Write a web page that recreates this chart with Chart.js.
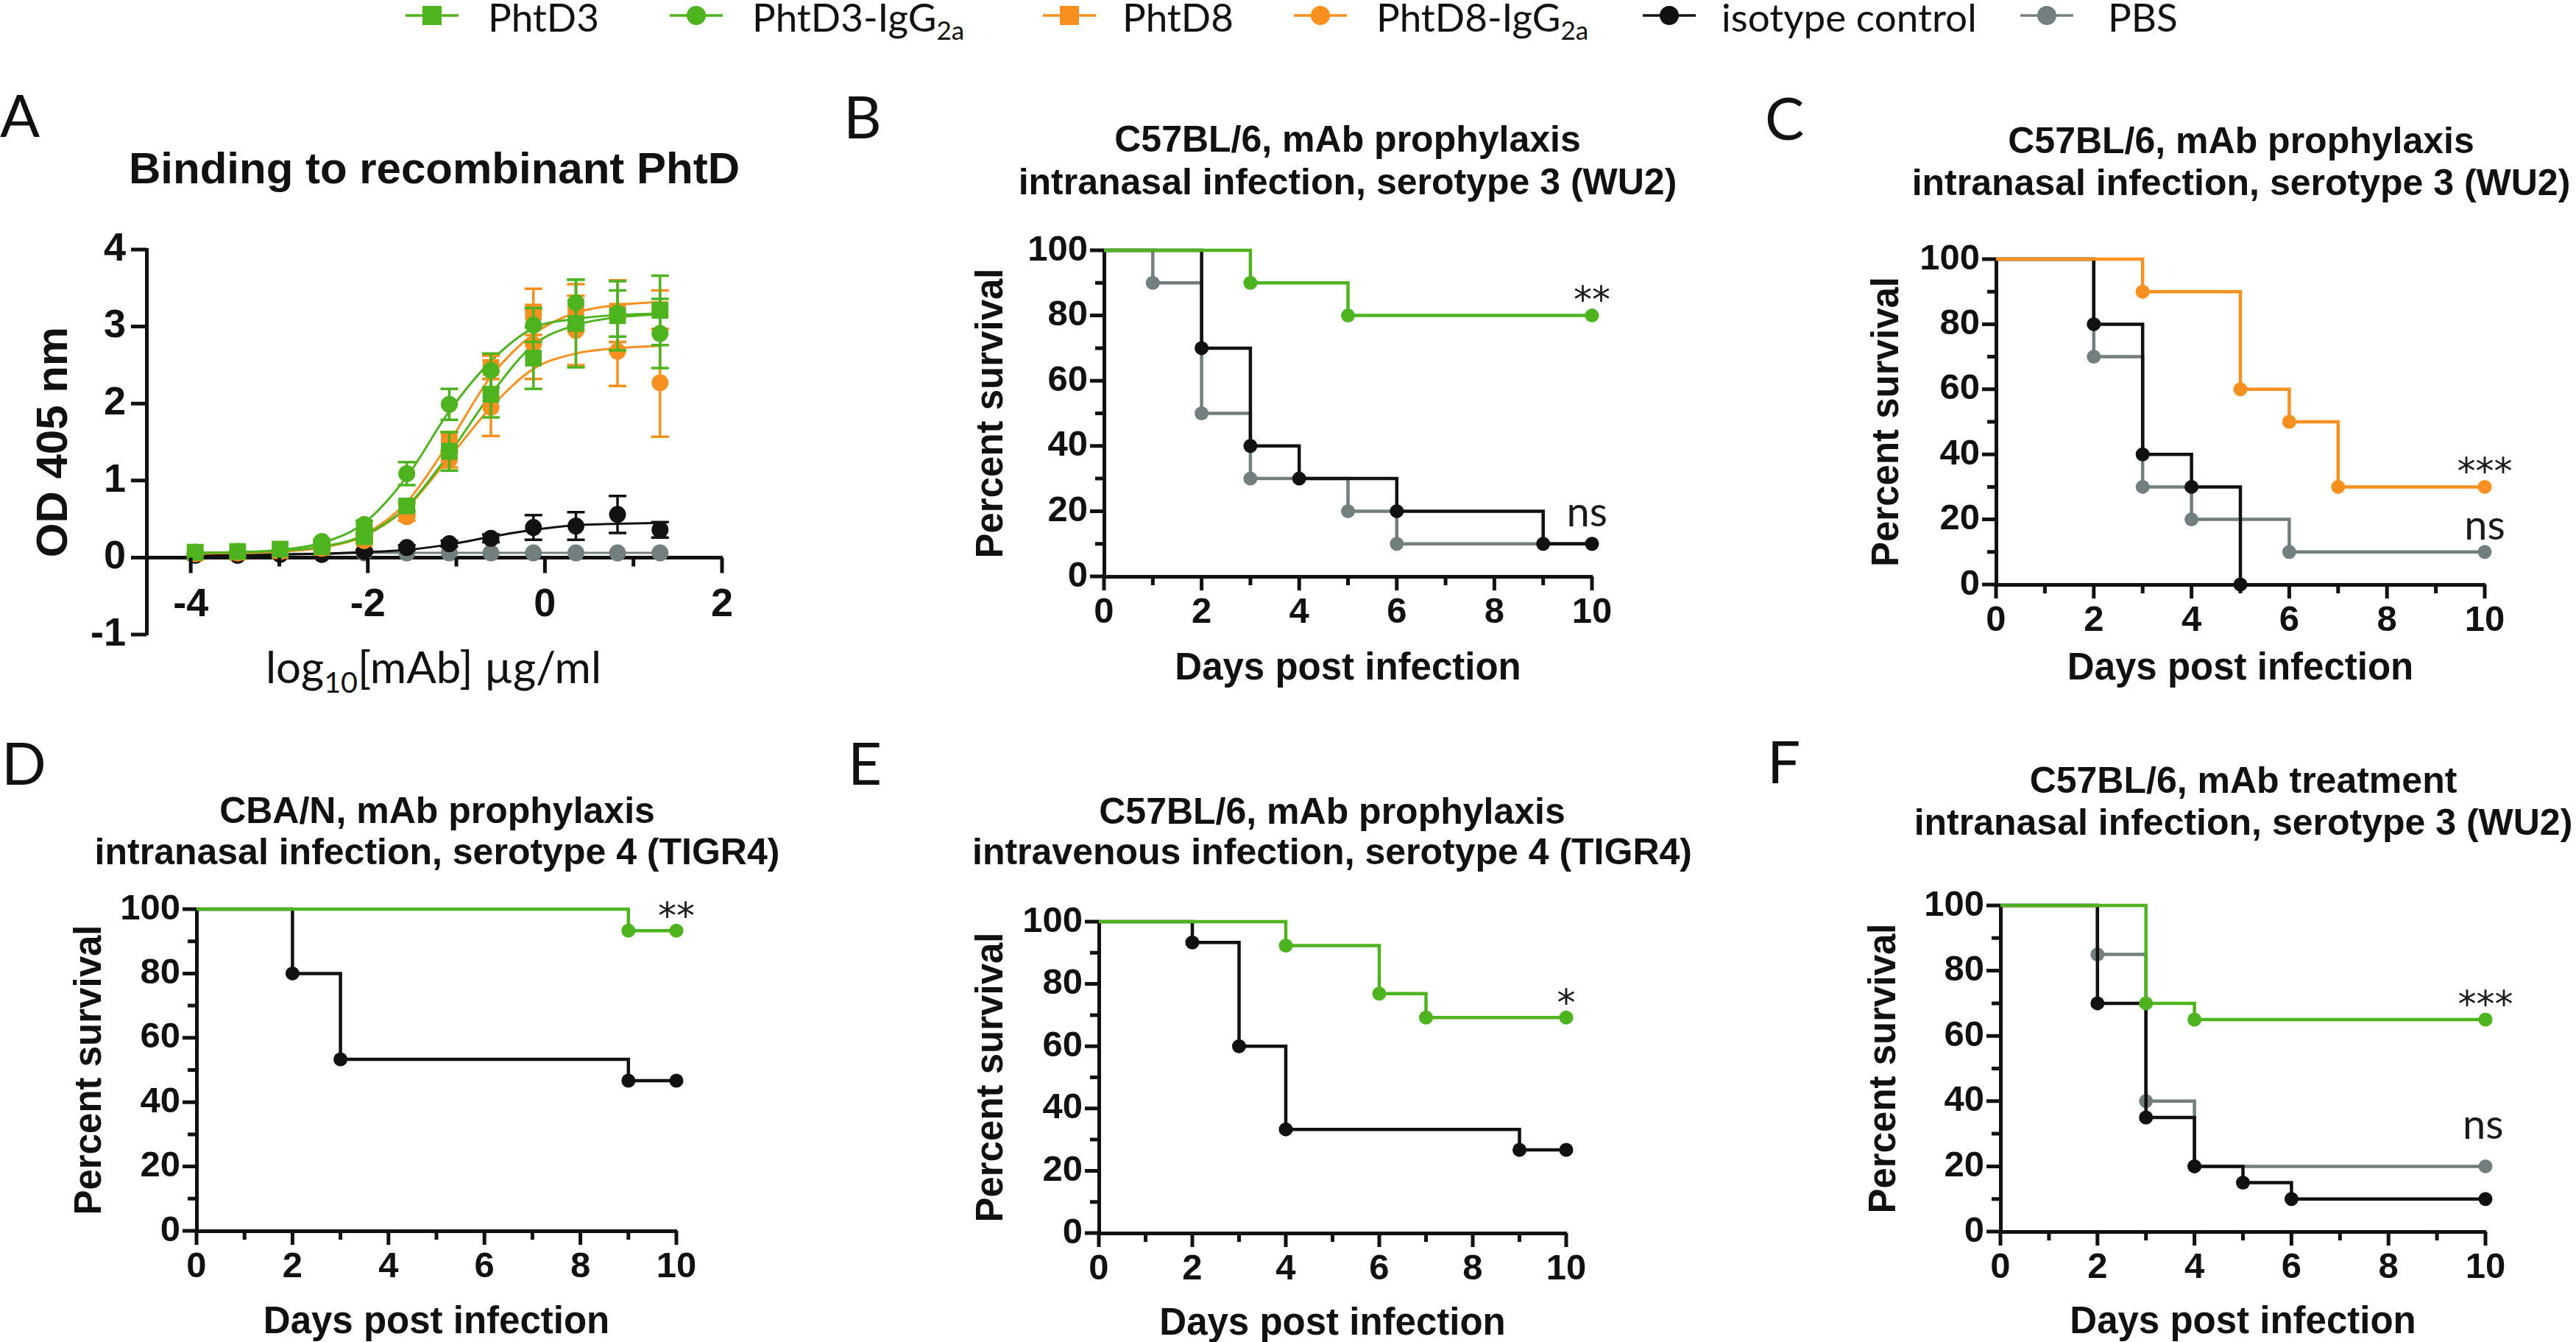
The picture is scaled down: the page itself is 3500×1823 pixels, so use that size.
<!DOCTYPE html>
<html>
<head>
<meta charset="utf-8">
<title>PhtD mAb binding and survival</title>
<script src="https://cdn.jsdelivr.net/npm/chart.js@4.4.1/dist/chart.umd.min.js"></script>
<style>
  html, body { margin: 0; padding: 0; background: #fff; }
  #fig { position: relative; width: 3500px; height: 1823px; overflow: hidden; background: #fff; color: #111; }
  #fig canvas { position: absolute; }
  .txt { position: absolute; white-space: nowrap; line-height: 1; }
  .ttl { font-family: "Liberation Sans", Arial, sans-serif; font-weight: bold; font-size: 50px; width: 1400px; text-align: center; }
  .big { font-size: 60px; }
  .lbl { font-family: Lato, "Open Sans", sans-serif; font-size: 80px; }
  .leg { font-family: Lato, "Open Sans", sans-serif; font-size: 53px; }
  .sub { font-size: 0.66em; position: relative; top: 0.32em; }
  svg.sym { position: absolute; }
</style>
</head>
<body>
<div id="fig">
  <!-- legend -->
  <svg class="sym" style="left:551px;top:2px" width="72" height="38"><line x1="0" y1="19" x2="72" y2="19" stroke="#4db31f" stroke-width="3.5"/><rect x="23" y="6" width="26" height="26" fill="#4db31f"/></svg>
  <div class="txt leg" style="left:663px;top:-4px">PhtD3</div>
  <svg class="sym" style="left:910px;top:2px" width="72" height="38"><line x1="0" y1="19" x2="72" y2="19" stroke="#4db31f" stroke-width="3.5"/><circle cx="36" cy="19" r="13" fill="#4db31f"/></svg>
  <div class="txt leg" style="left:1022px;top:-4px">PhtD3-IgG<span class="sub">2a</span></div>
  <svg class="sym" style="left:1417px;top:2px" width="72" height="38"><line x1="0" y1="19" x2="72" y2="19" stroke="#f7901e" stroke-width="3.5"/><rect x="23" y="6" width="26" height="26" fill="#f7901e"/></svg>
  <div class="txt leg" style="left:1525px;top:-4px">PhtD8</div>
  <svg class="sym" style="left:1758px;top:2px" width="72" height="38"><line x1="0" y1="19" x2="72" y2="19" stroke="#f7901e" stroke-width="3.5"/><circle cx="36" cy="19" r="13" fill="#f7901e"/></svg>
  <div class="txt leg" style="left:1870px;top:-4px">PhtD8-IgG<span class="sub">2a</span></div>
  <svg class="sym" style="left:2232px;top:2px" width="72" height="38"><line x1="0" y1="19" x2="72" y2="19" stroke="#111111" stroke-width="3.5"/><circle cx="36" cy="19" r="13" fill="#111111"/></svg>
  <div class="txt leg" style="left:2339px;top:-4px">isotype control</div>
  <svg class="sym" style="left:2745px;top:2px" width="72" height="38"><line x1="0" y1="19" x2="72" y2="19" stroke="#737f7f" stroke-width="3.5"/><circle cx="36" cy="19" r="13" fill="#737f7f"/></svg>
  <div class="txt leg" style="left:2864px;top:-4px">PBS</div>

  <!-- panel letters -->
  <div class="txt lbl" style="left:0px;top:115px">A</div>
  <div class="txt lbl" style="left:1146px;top:117px">B</div>
  <div class="txt lbl" style="left:2398px;top:119px">C</div>
  <div class="txt lbl" style="left:2px;top:995px">D</div>
  <div class="txt lbl" style="left:1152px;top:995px">E</div>
  <div class="txt lbl" style="left:2401px;top:993px">F</div>

  <!-- panel titles -->
  <div class="txt ttl big" style="left:-110px;top:199px">Binding to recombinant PhtD</div>
  <div class="txt ttl" style="left:1131px;top:164px">C57BL/6, mAb prophylaxis</div>
  <div class="txt ttl" style="left:1131px;top:222px">intranasal infection, serotype 3 (WU2)</div>
  <div class="txt ttl" style="left:2345px;top:166px">C57BL/6, mAb prophylaxis</div>
  <div class="txt ttl" style="left:2345px;top:223px">intranasal infection, serotype 3 (WU2)</div>
  <div class="txt ttl" style="left:-106px;top:1076px">CBA/N, mAb prophylaxis</div>
  <div class="txt ttl" style="left:-106px;top:1132px">intranasal infection, serotype 4 (TIGR4)</div>
  <div class="txt ttl" style="left:1110px;top:1077px">C57BL/6, mAb prophylaxis</div>
  <div class="txt ttl" style="left:1110px;top:1132px">intravenous infection, serotype 4 (TIGR4)</div>
  <div class="txt ttl" style="left:2348px;top:1035px">C57BL/6, mAb treatment</div>
  <div class="txt ttl" style="left:2348px;top:1092px">intranasal infection, serotype 3 (WU2)</div>

  <!-- x-axis title of panel A (needs a subscript) -->
  <div class="txt" style="font-family:Lato,'Open Sans',sans-serif;font-size:60px;left:189px;top:875px;width:800px;text-align:center">log<span class="sub">10</span>[mAb] µg/ml</div>
</div>

<script>
// ---------- panel A: binding to recombinant PhtD (OD 405 nm) ----------
const logConc = [-3.95, -3.47, -2.99, -2.52, -2.04, -1.56, -1.08, -0.61, -0.13, 0.35, 0.82, 1.30];

const odPhtD3   = [0.07, 0.08, 0.11, 0.14, 0.27, 0.67, 1.38, 2.12, 2.59, 3.04, 3.14, 3.21];
const sdPhtD3   = [0, 0, 0, 0.02, 0.04, 0.06, 0.25, 0.30, 0.40, 0.57, 0.45, 0.45];
const fitPhtD3  = [0.06, 0.07, 0.09, 0.14, 0.29, 0.66, 1.35, 2.12, 2.76, 3.02, 3.12, 3.16];

const odPhtD3G  = [0.07, 0.08, 0.10, 0.21, 0.43, 1.09, 1.99, 2.43, 3.02, 3.31, 3.17, 2.91];
const sdPhtD3G  = [0, 0, 0, 0.02, 0.05, 0.15, 0.20, 0.22, 0.22, 0.30, 0.30, 0.45];
const fitPhtD3G = [0.06, 0.07, 0.10, 0.19, 0.45, 1.05, 1.90, 2.55, 2.98, 3.10, 3.15, 3.17];

const odPhtD8   = [0.06, 0.07, 0.09, 0.13, 0.25, 0.62, 1.51, 2.47, 3.19, 3.25, 3.20, 3.22];
const sdPhtD8   = [0, 0, 0, 0.01, 0.03, 0.08, 0.12, 0.15, 0.30, 0.30, 0.40, 0.25];
const fitPhtD8  = [0.05, 0.06, 0.08, 0.13, 0.30, 0.72, 1.50, 2.35, 2.90, 3.18, 3.28, 3.32];

const odPhtD8G  = [0.05, 0.06, 0.08, 0.12, 0.22, 0.53, 1.27, 1.95, 2.77, 2.95, 2.68, 2.27];
const sdPhtD8G  = [0, 0, 0, 0.01, 0.03, 0.05, 0.10, 0.37, 0.45, 0.45, 0.45, 0.70];
const fitPhtD8G = [0.05, 0.06, 0.08, 0.13, 0.28, 0.65, 1.30, 1.95, 2.45, 2.65, 2.72, 2.75];

const odIso     = [0.03, 0.03, 0.04, 0.04, 0.08, 0.13, 0.18, 0.25, 0.39, 0.41, 0.56, 0.36];
const sdIso     = [0, 0, 0, 0.01, 0.02, 0.03, 0.04, 0.05, 0.16, 0.18, 0.24, 0.10];
const fitIso    = [0.03, 0.03, 0.04, 0.05, 0.07, 0.10, 0.17, 0.27, 0.36, 0.42, 0.44, 0.45];

const odPBS     = [0.05, 0.05, 0.05, 0.05, 0.06, 0.06, 0.06, 0.06, 0.06, 0.06, 0.06, 0.06];
const fitPBS    = [0.05, 0.05, 0.05, 0.05, 0.06, 0.06, 0.06, 0.06, 0.06, 0.06, 0.06, 0.06];

const odTicks = [-1, 0, 1, 2, 3, 4];
const logTicks = [-4, -2, 0, 2];
const logMinorTicks = [-3, -1, 1];

// ---------- panels B-F: Kaplan-Meier survival (%) ----------
const dayTicks = [0, 2, 4, 6, 8, 10];
const dayMinorTicks = [1, 3, 5, 7, 9];
const pctTicks = [0, 20, 40, 60, 80, 100];
const pctMinorTicks = [10, 30, 50, 70, 90];

const daysB_D3  = [0, 3, 5, 10];             const survB_D3  = [100, 90, 80, 80];
const daysB_iso = [0, 2, 3, 4, 6, 9, 10];    const survB_iso = [100, 70, 40, 30, 20, 10, 10];
const daysB_pbs = [0, 1, 2, 3, 5, 6, 10];    const survB_pbs = [100, 90, 50, 30, 20, 10, 10];

const daysC_D8  = [0, 3, 5, 6, 7, 10];       const survC_D8  = [100, 90, 60, 50, 30, 30];
const daysC_iso = [0, 2, 3, 4, 5];           const survC_iso = [100, 80, 40, 30, 0];
const daysC_pbs = [0, 2, 3, 4, 6, 10];       const survC_pbs = [100, 70, 30, 20, 10, 10];

const daysD_D3  = [0, 9, 10];                const survD_D3  = [100, 93.3, 93.3];
const daysD_iso = [0, 2, 3, 9, 10];          const survD_iso = [100, 80, 53.3, 46.7, 46.7];

const daysE_D3  = [0, 4, 6, 7, 10];          const survE_D3  = [100, 92.3, 76.9, 69.2, 69.2];
const daysE_iso = [0, 2, 3, 4, 9, 10];       const survE_iso = [100, 93.3, 60, 33.3, 26.7, 26.7];

const daysF_D3  = [0, 3, 4, 10];             const survF_D3  = [100, 70, 65, 65];
const daysF_iso = [0, 2, 3, 4, 5, 6, 10];    const survF_iso = [100, 70, 35, 20, 15, 10, 10];
const daysF_pbs = [0, 2, 3, 4, 10];          const survF_pbs = [100, 85, 40, 20, 20];

// ---------- styles ----------
const INK = '#111111', GREEN = '#4db31f', ORANGE = '#f7901e', BLACK = '#111111', GREY = '#737f7f';
const SANS = '"Liberation Sans", Arial, sans-serif';
const HUMAN = 'Lato, "Open Sans", sans-serif';
Chart.defaults.font.family = SANS;
Chart.defaults.color = INK;

const fig = document.getElementById('fig');
function placeCanvas(left, top, w, h) {
  const c = document.createElement('canvas');
  c.width = w; c.height = h;
  c.style.left = left + 'px'; c.style.top = top + 'px';
  c.style.width = w + 'px'; c.style.height = h + 'px';
  fig.appendChild(c);
  return c;
}
const pts = (xs, ys) => xs.map((x, i) => ({x: x, y: ys[i]}));
const fixedTicks = vals => scale => { scale.ticks = vals.map(v => ({value: v})); };

// tick marks (major + minor) drawn against the chart's own scales
const axisTicks = {
  id: 'axisTicks',
  afterDraw(chart, args, o) {
    const {ctx} = chart;
    const xs = chart.scales.x, ys = chart.scales.y;
    const axisX = xs.getPixelForValue(xs.min);
    const axisY = ys.getPixelForValue(o.xAt);
    ctx.save();
    ctx.strokeStyle = INK; ctx.lineWidth = o.width;
    ctx.beginPath();
    const xt = (vals, len) => vals.forEach(v => { const p = xs.getPixelForValue(v); ctx.moveTo(p, axisY); ctx.lineTo(p, axisY + len); });
    const yt = (vals, len) => vals.forEach(v => { const p = ys.getPixelForValue(v); ctx.moveTo(axisX, p); ctx.lineTo(axisX - len, p); });
    xt(o.xMajor, o.major); xt(o.xMinor, o.minor);
    yt(o.yMajor, o.major); yt(o.yMinor, o.minor);
    ctx.stroke();
    ctx.restore();
  }
};

// SD error bars for the binding curves
const errorBars = {
  id: 'errorBars',
  beforeDatasetDraw(chart, args) {
    const ds = chart.data.datasets[args.index];
    if (!ds.errors) return;
    const {ctx} = chart, ys = chart.scales.y;
    ctx.save();
    ctx.strokeStyle = ds.borderColor; ctx.lineWidth = 3.5;
    ctx.beginPath();
    args.meta.data.forEach((pt, i) => {
      const e = ds.errors[i];
      if (!e) return;
      const v = ds.data[i].y;
      const top = ys.getPixelForValue(v + e), bot = ys.getPixelForValue(v - e);
      ctx.moveTo(pt.x, top); ctx.lineTo(pt.x, bot);
      ctx.moveTo(pt.x - 12, top); ctx.lineTo(pt.x + 12, top);
      ctx.moveTo(pt.x - 12, bot); ctx.lineTo(pt.x + 12, bot);
    });
    ctx.stroke();
    ctx.restore();
  }
};

// significance marks placed in data coordinates
const sigMarks = {
  id: 'sigMarks',
  afterDatasetsDraw(chart, args, o) {
    if (!o.items) return;
    const {ctx} = chart, xs = chart.scales.x, ys = chart.scales.y;
    ctx.save();
    ctx.fillStyle = '#1a1a1a';
    ctx.textAlign = 'center'; ctx.textBaseline = 'alphabetic';
    o.items.forEach(m => {
      ctx.font = m.text.startsWith('*') ? o.starFont : o.font;
      ctx.fillText(m.text, xs.getPixelForValue(m.x), ys.getPixelForValue(m.y));
    });
    ctx.restore();
  }
};

// ---------- panel A ----------
function pointSet(label, ys, sd, color, shape) {
  return {
    label: label, data: pts(logConc, ys), errors: sd, showLine: false,
    borderColor: color, backgroundColor: color, pointBackgroundColor: color,
    pointStyle: shape, pointRadius: shape === 'rect' ? 16 : 11.5, pointBorderWidth: 0, pointHoverRadius: 0,
    clip: false
  };
}
function fitSet(label, ys, color) {
  return {
    label: label, data: pts(logConc, ys), borderColor: color, borderWidth: 3,
    pointRadius: 0, pointHoverRadius: 0, cubicInterpolationMode: 'monotone', fill: false, clip: false
  };
}

// plot area of A: x 199..981, y 339..862
new Chart(placeCanvas(0, 275, 1033, 651), {
  type: 'line',
  data: {
    datasets: [
      pointSet('PhtD3', odPhtD3, sdPhtD3, GREEN, 'rect'),
      pointSet('PhtD3-IgG2a', odPhtD3G, sdPhtD3G, GREEN, 'circle'),
      pointSet('PhtD8', odPhtD8, sdPhtD8, ORANGE, 'rect'),
      pointSet('PhtD8-IgG2a', odPhtD8G, sdPhtD8G, ORANGE, 'circle'),
      pointSet('isotype control', odIso, sdIso, BLACK, 'circle'),
      pointSet('PBS', odPBS, null, GREY, 'circle'),
      fitSet('PhtD3 fit', fitPhtD3, GREEN),
      fitSet('PhtD3-IgG2a fit', fitPhtD3G, GREEN),
      fitSet('PhtD8 fit', fitPhtD8, ORANGE),
      fitSet('PhtD8-IgG2a fit', fitPhtD8G, ORANGE),
      fitSet('isotype control fit', fitIso, BLACK),
      fitSet('PBS fit', fitPBS, GREY)
    ]
  },
  options: {
    responsive: false, animation: false, devicePixelRatio: 1,
    layout: {padding: {top: 64, right: 52, bottom: 64, left: 0}},
    plugins: {
      legend: {display: false}, tooltip: {enabled: false},
      axisTicks: {xAt: 0, xMajor: logTicks, xMinor: logMinorTicks, yMajor: odTicks, yMinor: [], major: 21, minor: 12, width: 5}
    },
    scales: {
      x: {
        type: 'linear', position: {y: 0}, min: -4.5, max: 2,
        afterBuildTicks: fixedTicks(logTicks),
        grid: {display: false, drawTicks: false},
        border: {display: true, width: 5, color: INK},
        ticks: {padding: 32, autoSkip: false, maxRotation: 0, font: {size: 54, weight: 'bold'}}
      },
      y: {
        type: 'linear', min: -1, max: 4,
        afterBuildTicks: fixedTicks(odTicks),
        afterFit: s => { s.width = 199; },
        grid: {display: false, drawTicks: false},
        border: {display: true, width: 5, color: INK},
        ticks: {padding: 28, font: {size: 54, weight: 'bold'}},
        title: {display: true, text: 'OD 405 nm', font: {size: 60, weight: 'bold'}, padding: {top: 38, bottom: 0}}
      }
    }
  },
  plugins: [errorBars, axisTicks]
});

// ---------- panels B-F ----------
const survivalPanels = [
  {box: [1500, 340, 2163, 783], xTitleY: 909, yTitleX: 1348,
   series: [[daysB_D3, survB_D3, GREEN], [daysB_iso, survB_iso, BLACK], [daysB_pbs, survB_pbs, GREY]],
   marks: [{x: 10, y: 81, text: '**'}, {x: 9.9, y: 15.3, text: 'ns'}]},
  {box: [2712, 352, 3376, 794], xTitleY: 909, yTitleX: 2565,
   series: [[daysC_D8, survC_D8, ORANGE], [daysC_iso, survC_iso, BLACK], [daysC_pbs, survC_pbs, GREY]],
   marks: [{x: 10, y: 31, text: '***'}, {x: 10, y: 13.8, text: 'ns'}]},
  {box: [267, 1235, 919, 1672], xTitleY: 1797, yTitleX: 123,
   series: [[daysD_D3, survD_D3, GREEN], [daysD_iso, survD_iso, BLACK]],
   marks: [{x: 10, y: 94, text: '**'}]},
  {box: [1493, 1252, 2128, 1675], xTitleY: 1799, yTitleX: 1348,
   series: [[daysE_D3, survE_D3, GREEN], [daysE_iso, survE_iso, BLACK]],
   marks: [{x: 10, y: 70, text: '*'}]},
  {box: [2718, 1230, 3377, 1673], xTitleY: 1797, yTitleX: 2561,
   series: [[daysF_D3, survF_D3, GREEN], [daysF_iso, survF_iso, BLACK], [daysF_pbs, survF_pbs, GREY]],
   marks: [{x: 10, y: 66, text: '***'}, {x: 9.95, y: 28.5, text: 'ns'}]}
];

survivalPanels.forEach(p => {
  const [L, T, R, B] = p.box;
  const wy = 200, padTop = 56, padRight = 55, halfLine = 30.6;
  const hx = Math.round(p.xTitleY + halfLine + 8 - B);
  const left = L - wy, top = T - padTop;
  const w = R - L + wy + padRight, h = B - T + padTop + hx;

  new Chart(placeCanvas(left, top, w, h), {
    type: 'line',
    data: {
      datasets: p.series.map(([days, surv, color]) => ({
        data: pts(days, surv),
        borderColor: color, backgroundColor: color, pointBackgroundColor: color,
        borderWidth: 4.5, stepped: 'before', fill: false, clip: false,
        pointRadius: c => (c.dataIndex === 0 ? 0 : 9.5), pointBorderWidth: 0, pointHoverRadius: 0
      }))
    },
    options: {
      responsive: false, animation: false, devicePixelRatio: 1,
      layout: {padding: {top: padTop, right: padRight, bottom: 0, left: 0}},
      plugins: {
        legend: {display: false}, tooltip: {enabled: false},
        axisTicks: {xAt: 0, xMajor: dayTicks, xMinor: dayMinorTicks, yMajor: pctTicks, yMinor: pctMinorTicks, major: 19, minor: 12, width: 5},
        sigMarks: {items: p.marks, font: '56px ' + HUMAN, starFont: '50px "DejaVu Sans", sans-serif'}
      },
      scales: {
        x: {
          type: 'linear', min: 0, max: 10,
          afterBuildTicks: fixedTicks(dayTicks),
          afterFit: s => { s.height = hx; },
          grid: {display: false, drawTicks: false},
          border: {display: true, width: 5, color: INK},
          ticks: {padding: 20, autoSkip: false, maxRotation: 0, font: {size: 49, weight: 'bold'}},
          title: {display: true, text: 'Days post infection', font: {size: 51, weight: 'bold'}, padding: {top: 0, bottom: 8}}
        },
        y: {
          type: 'linear', min: 0, max: 100,
          afterBuildTicks: fixedTicks(pctTicks),
          afterFit: s => { s.width = wy; },
          grid: {display: false, drawTicks: false},
          border: {display: true, width: 5, color: INK},
          ticks: {padding: 22, font: {size: 49, weight: 'bold'}},
          title: {display: true, text: 'Percent survival', font: {size: 51, weight: 'bold'},
                  padding: {top: p.yTitleX - left - halfLine, bottom: 0}}
        }
      }
    },
    plugins: [axisTicks, sigMarks]
  });
});
</script>
</body>
</html>
